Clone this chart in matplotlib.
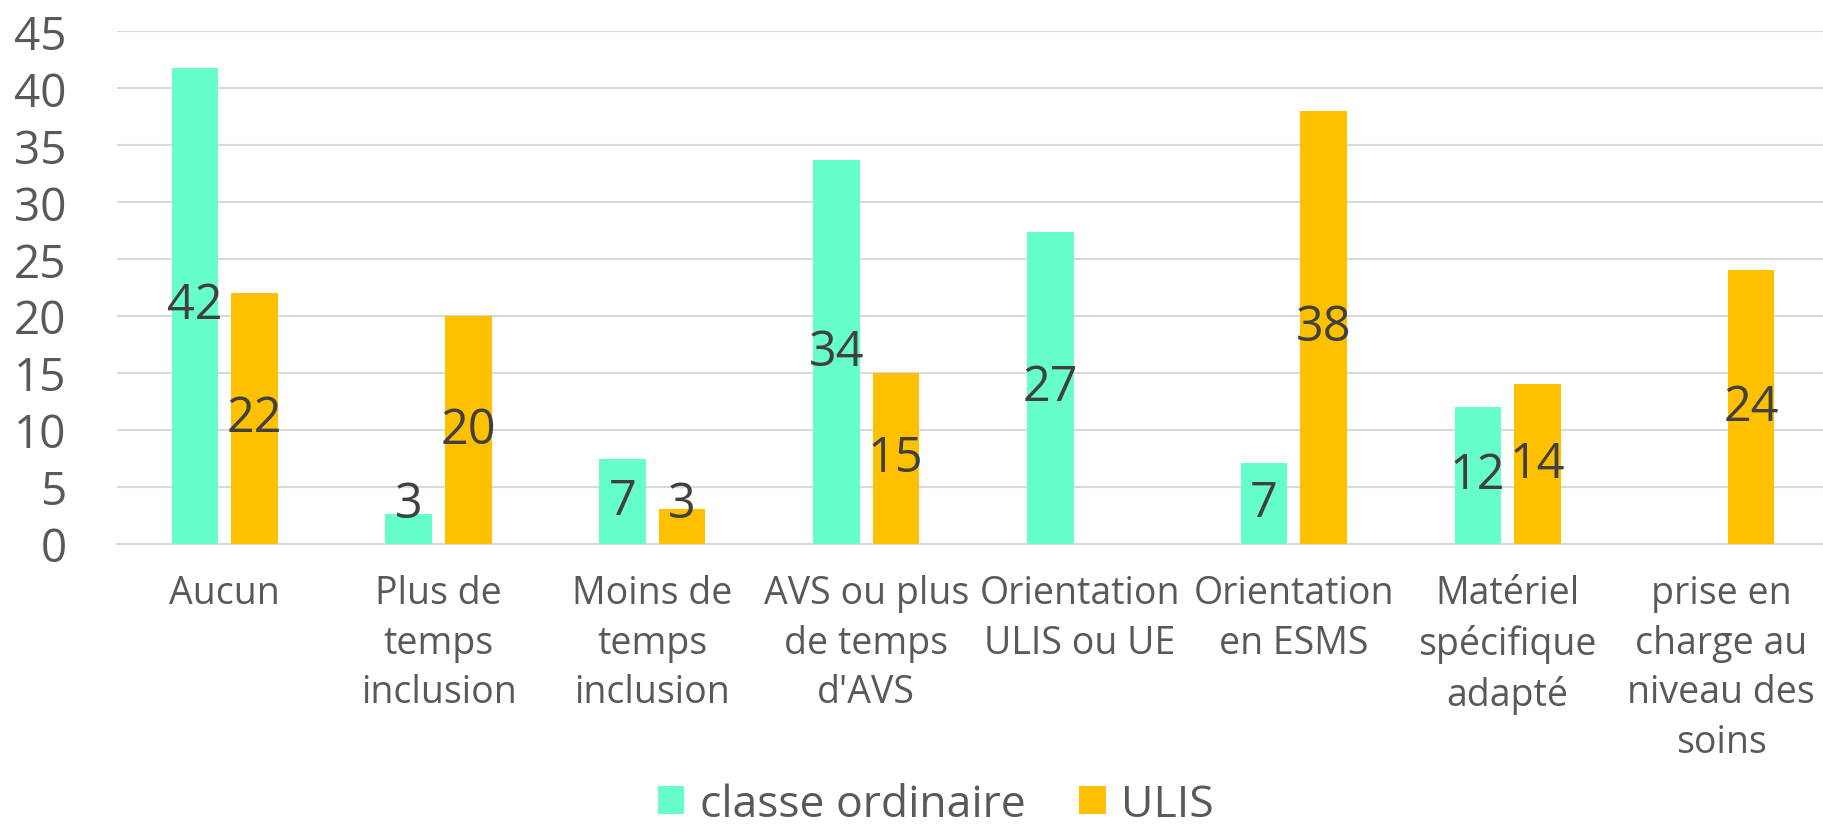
import numpy as np
import matplotlib.pyplot as plt

# Données
categories = ['Aucun', 'Plus de\ntemps\ninclusion', 'Moins de\ntemps\ninclusion',
              'AVS ou plus\nde temps\nd\'AVS', 'Orientation\nULIS ou UE', 'Orientation\nen ESMS',
              'Matériel\nspécifique\nadapté', 'prise en\ncharge au\nniveau des\nsoins']
classe_ordinaire = [41.8, 2.6, 7.4, 33.7, 27.4, 7.1, 12.0, 0]
ulis = [22.0, 20.0, 3.0, 15.0, 0, 38.0, 14.0, 24.0]
labels_classe = ['42', '3', '7', '34', '27', '7', '12', '']
labels_ulis = ['22', '20', '3', '15', '', '38', '14', '24']

plt.rcParams['font.family'] = ['Open Sans', 'DejaVu Sans']

fig = plt.figure(figsize=(18.24, 8.29), dpi=100)
ax = fig.add_axes([0.064, 0.343, 0.936, 0.618])

x = np.arange(len(categories))
larg = 0.218
dec = 0.139
b1 = ax.bar(x - dec, classe_ordinaire, larg, color='#66FFCC', label='classe ordinaire', zorder=3)
b2 = ax.bar(x + dec, ulis, larg, color='#FFC000', label='ULIS', zorder=3)

#   Étiquettes de données au centre des barres
for xs, vals, labs in [(x - dec, classe_ordinaire, labels_classe), (x + dec, ulis, labels_ulis)]:
    for xi, v, lab in zip(xs, vals, labs):
        if lab:
            ax.text(xi, max(v / 2, 3.5), lab, ha='center', va='center',
                    fontsize=35, color='#404040', zorder=4)

ax.set_xlim(-0.505, 7.48)
ax.set_ylim(0, 45)
ax.set_yticks(np.arange(0, 46, 5))
ax.grid(axis='y', color='#D9D9D9', linewidth=1.5, zorder=0)
for s in ['top', 'right', 'left']:
    ax.spines[s].set_visible(False)
ax.spines['bottom'].set_color('#D9D9D9')
ax.spines['bottom'].set_linewidth(1.5)

ax.set_xticks(x)
ax.set_xticklabels(categories, fontsize=27, color='#595959', linespacing=1.4, va='top')
ax.tick_params(axis='x', length=0, pad=22)
ax.tick_params(axis='y', length=0, pad=36, labelsize=33, labelcolor='#595959')

fig.legend(handles=[b1, b2], loc='center', bbox_to_anchor=(0.513, 0.028), ncol=2,
           frameon=False, fontsize=32, labelcolor='#595959', handlelength=0.6,
           handleheight=0.6, handletextpad=0.35, columnspacing=1.2, borderpad=0.1)

fig.savefig('out.png', dpi=100)
